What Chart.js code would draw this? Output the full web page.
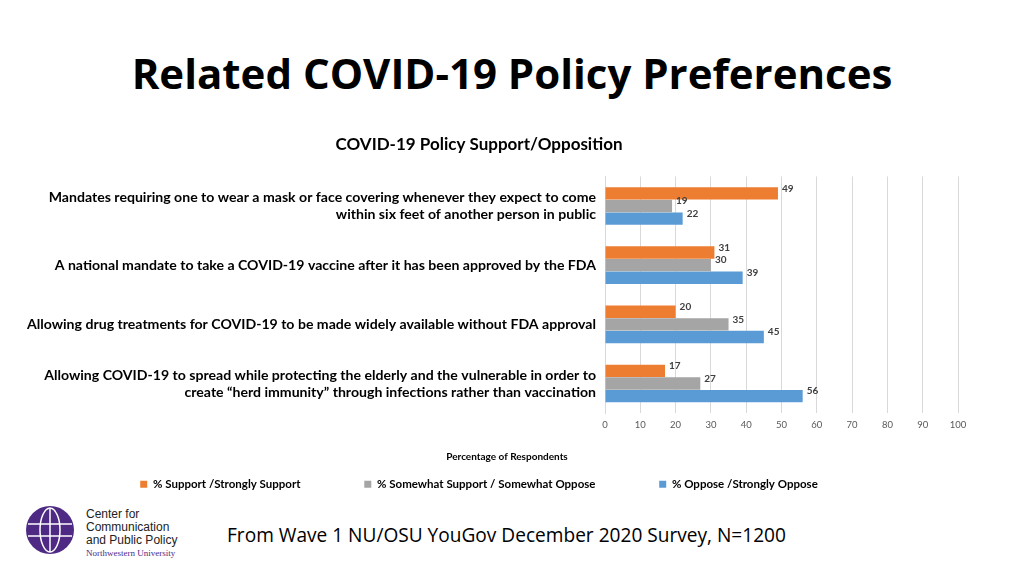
<!DOCTYPE html>
<html><head><meta charset="utf-8">
<script src="https://cdn.jsdelivr.net/npm/chart.js@4"></script>
<style>
body{margin:0;width:1024px;height:575px;background:#fff;font-family:"Open Sans",sans-serif;position:relative;overflow:hidden}
#title{position:absolute;top:44px;width:100%;text-align:center;font-size:42px;font-weight:bold;color:#000}
#wrap{position:absolute;left:0;top:126px;width:1024px;height:374px}
#foot{position:absolute;left:227px;top:522px;font-size:19.1px;color:#000}
#logo{position:absolute;left:24px;top:504px;width:170px;height:56px}
</style></head><body>
<div id="title">Related COVID-19 Policy Preferences</div>
<div id="wrap"><canvas id="c"></canvas></div>
<div id="foot">From Wave 1 NU/OSU YouGov December 2020 Survey, N=1200</div>
<svg id="logo" viewBox="0 0 170 56">
<circle cx="26" cy="26" r="24" fill="#4e2a84"/>
<g stroke="#fff" stroke-width="1.5" fill="none">
<ellipse cx="26" cy="26" rx="10" ry="22"/><line x1="26" y1="4" x2="26" y2="48"/>
<line x1="4" y1="20" x2="48" y2="20"/><line x1="4" y1="32" x2="48" y2="32"/></g>
<text x="62" y="14" font-family="Liberation Sans" font-size="12" fill="#222">Center for</text>
<text x="62" y="27" font-family="Liberation Sans" font-size="12" fill="#222">Communication</text>
<text x="62" y="40" font-family="Liberation Sans" font-size="12" fill="#222">and Public Policy</text>
<text x="62" y="52" font-family="Liberation Serif" font-size="9" fill="#4e2a84">Northwestern University</text>
</svg>
<script>
const categories = [
  ['Mandates requiring one to wear a mask or face covering whenever they expect to come', 'within six feet of another person in public'],
  'A national mandate to take a COVID-19 vaccine after it has been approved by the FDA',
  'Allowing drug treatments for COVID-19 to be made widely available without FDA approval',
  ['Allowing COVID-19 to spread while protecting the elderly and the vulnerable in order to', 'create \u201cherd immunity\u201d through infections rather than vaccination']
];
const support = [49, 31, 20, 17];
const somewhat = [19, 30, 35, 27];
const oppose = [22, 39, 45, 56];
const xTicks = [0, 10, 20, 30, 40, 50, 60, 70, 80, 90, 100];
const xTitle = 'Percentage of Respondents';

const barLabels = {
  id: 'barLabels',
  afterDatasetsDraw(chart) {
    const ctx = chart.ctx;
    ctx.save();
    ctx.font = 'bold 10px Lato';
    ctx.fillStyle = '#404040';
    ctx.textBaseline = 'middle';
    chart.data.datasets.forEach((ds, i) => {
      chart.getDatasetMeta(i).data.forEach((bar, j) => {
        ctx.fillText(ds.data[j], bar.x + 4, bar.y - 5);
      });
    });
    // axis title centred on the whole chart, like the original
    ctx.font = 'bold 10px Lato';
    ctx.fillStyle = '#000';
    ctx.textAlign = 'center';
    ctx.fillText(xTitle, 507, chart.scales.x.bottom - 10);
    ctx.restore();
  }
};

new Chart(document.getElementById('c'), {
  type: 'bar',
  data: {
    labels: categories,
    datasets: [
      { label: '% Support /Strongly Support', data: support, backgroundColor: '#ED7D31' },
      { label: '% Somewhat Support / Somewhat Oppose', data: somewhat, backgroundColor: '#A5A5A5' },
      { label: '% Oppose /Strongly Oppose', data: oppose, backgroundColor: '#5B9BD5' }
    ]
  },
  options: {
    indexAxis: 'y',
    responsive: true,
    maintainAspectRatio: false,
    animation: false,
    categoryPercentage: 0.64,
    barPercentage: 0.98,
    layout: { padding: { left: 0, right: 66 } },
    plugins: {
      title: { display: true, text: 'COVID-19 Policy Support/Opposition', color: '#000',
        font: { size: 17, weight: 'bold', family: 'Lato' }, padding: { top: 8, bottom: 22 } },
      legend: { position: 'bottom', labels: { color: '#000', boxWidth: 7, boxHeight: 7, padding: 12,
        font: { size: 11.5, family: 'Lato', weight: 'bold' },
        generateLabels: (chart) => Chart.defaults.plugins.legend.labels.generateLabels(chart)
          .map((l, i) => ({ ...l, text: i < 2 ? l.text + '\u2003\u2003\u2003\u2003\u2003\u2003' : l.text })) } },
      tooltip: { enabled: false }
    },
    scales: {
      x: {
        min: 0, max: 100,
        afterBuildTicks: (s) => { s.ticks = xTicks.map(v => ({ value: v })); },
        grid: { color: '#d9d9d9', drawTicks: false },
        border: { display: false },
        ticks: { color: '#595959', font: { size: 9.5, family: 'Lato' }, padding: 6 },
        title: { display: true, text: xTitle, color: 'rgba(0,0,0,0)',
          font: { size: 10, weight: 'bold', family: 'Lato' }, padding: { top: 10, bottom: 8 } }
      },
      y: {
        afterFit: (s) => { s.width = 605; },
        grid: { display: false },
        border: { color: '#d9d9d9' },
        ticks: { color: '#000', font: { size: 14.1, weight: 'bold', family: 'Lato' }, padding: 1 }
      }
    }
  },
  plugins: [barLabels]
});
</script>
</body></html>
